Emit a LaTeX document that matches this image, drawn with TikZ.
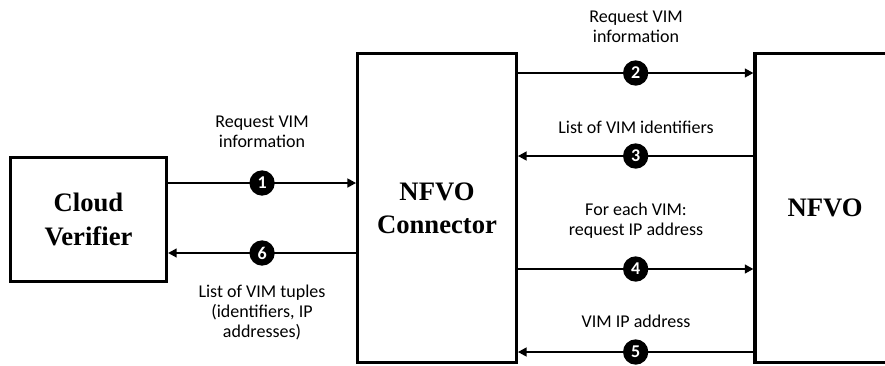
\documentclass[tikz,border=0pt]{standalone}
\usepackage{fontspec}
\setmainfont{Liberation Serif}
\newfontfamily\labelfont{Carlito}
\usetikzlibrary{arrows.meta}

\begin{document}
\begin{tikzpicture}[x=0.75pt, y=-0.75pt]
    \tikzset{
      entity/.style={rectangle, draw, line width=2.3pt, fill=white,
                     align=center, font=\fontsize{20}{25}\selectfont\bfseries},
      msg/.style={-{Triangle[length=6.5pt, width=6.5pt]}, line width=2.1pt},
      badge/.style={circle, fill=black, text=white, inner sep=0pt,
                    minimum size=19pt, font=\labelfont\bfseries\fontsize{13.5}{15}\selectfont},
      msglabel/.style={align=center, font=\labelfont\fontsize{13.5}{15}\selectfont}
    }

    \useasboundingbox (0,0) rectangle (885,365);
    \clip (0,0) rectangle (885,365);

    \node[entity, minimum width=117pt, minimum height=93pt] (verifier) at (88.5,219.5)
      {Cloud\\Verifier};
    \node[entity, minimum width=119pt, minimum height=232pt] (connector) at (437,208)
      {NFVO\\Connector};
    \node[entity, minimum width=105pt, minimum height=232pt] (nfvo) at (825,208)
      {NFVO};

    % Verifier <-> Connector
    \draw[msg] (verifier.east |- 0,183) -- node[badge] (b1) {1} (connector.west |- 0,183);
    \draw[msg] (connector.west |- 0,253) -- node[badge] (b6) {6} (verifier.east |- 0,253);
    \node[msglabel] (l1) at (262,132) {Request VIM\\information};
    \node[msglabel] (l6) at (262,312) {List of VIM tuples\\(identifiers, IP\\addresses)};

    % Connector <-> NFVO
    \draw[msg] (connector.east |- 0,73) -- node[badge] (b2) {2} (nfvo.west |- 0,73);
    \draw[msg] (nfvo.west |- 0,156) -- node[badge] (b3) {3} (connector.east |- 0,156);
    \draw[msg] (connector.east |- 0,269) -- node[badge] (b4) {4} (nfvo.west |- 0,269);
    \draw[msg] (nfvo.west |- 0,352) -- node[badge] (b5) {5} (connector.east |- 0,352);
    \node[msglabel] (l2) at (636,27) {Request VIM\\information};
    \node[msglabel] (l3) at (636,127) {List of VIM identifiers};
    \node[msglabel] (l4) at (636,221) {For each VIM:\\request IP address};
    \node[msglabel] (l5) at (636,321) {VIM IP address};
\end{tikzpicture}
\end{document}
